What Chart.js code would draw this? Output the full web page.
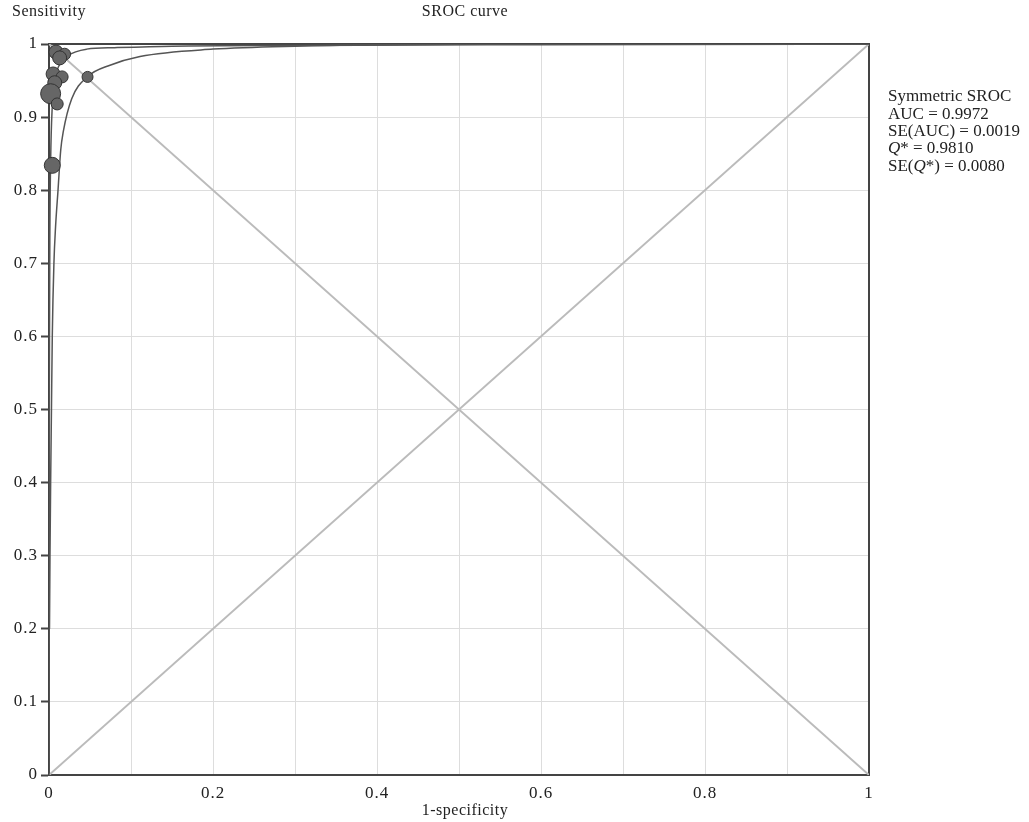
<!DOCTYPE html>
<html>
<head>
<meta charset="utf-8">
<title>SROC curve</title>
<script src="https://cdn.jsdelivr.net/npm/chart.js@4"></script>
<style>
    body { margin: 0; background: #fff; }
    #wrap { width: 1029px; height: 822px; }
</style>
</head>
<body>
<div id="wrap"><canvas id="srocChart" width="1029" height="822"></canvas></div>
<script>
// Study points (1-specificity, sensitivity) and relative study size
const studyFpr = [0.0085, 0.019, 0.013, 0.005, 0.016, 0.007, 0.002, 0.010, 0.047, 0.004];
const studyTpr = [0.989, 0.986, 0.981, 0.959, 0.955, 0.947, 0.932, 0.918, 0.955, 0.834];
const studySize = [7, 6, 7, 7, 6, 7, 10, 6, 5.5, 8];

// Symmetric SROC curve
const srocFpr = [0, 0.0003, 0.0006, 0.001, 0.002, 0.004, 0.007, 0.012, 0.023, 0.046, 0.08, 0.15, 0.3, 0.6, 1];
const srocTpr = [0, 0.45, 0.6, 0.73, 0.84, 0.915, 0.95, 0.97, 0.984, 0.993, 0.995, 0.997, 0.998, 0.999, 1];

// Lower curve
const lowerFpr = [0.0006, 0.0012, 0.002, 0.003, 0.004, 0.006, 0.008, 0.011, 0.0143, 0.0174, 0.0277, 0.0467, 0.0744, 0.111, 0.2, 0.3, 0.5, 1];
const lowerTpr = [0.2, 0.3, 0.4, 0.5, 0.6, 0.7, 0.75, 0.8, 0.855, 0.88, 0.925, 0.955, 0.971, 0.983, 0.993, 0.997, 0.9995, 1];

// Axis tick labels
const xTickLabels = ['0', '0.2', '0.4', '0.6', '0.8', '1'];
const yTickLabels = ['0', '0.1', '0.2', '0.3', '0.4', '0.5', '0.6', '0.7', '0.8', '0.9', '1'];

// Summary statistics
const statLines = ['Symmetric SROC', 'AUC = 0.9972', 'SE(AUC) = 0.0019', 'Q* = 0.9810', 'SE(Q*) = 0.0080'];

function pairs(xs, ys) {
    return xs.map(function(x, i) { return { x: x, y: ys[i] }; });
}

function tickText(list, value) {
    const hit = list.find(function(t) { return Math.abs(Number(t) - value) < 1e-6; });
    return hit === undefined ? '' : hit;
}

const serif = '"Liberation Serif", "DejaVu Serif", serif';
const textColor = '#222';

// Frame on top and right, plus all the free text
const framePlugin = {
    id: 'frame',
    beforeDraw: function(chart) {
        chart.ctx.letterSpacing = '1px';
    },
    beforeDatasetsDraw: function(chart) {
        const ctx = chart.ctx;
        const a = chart.chartArea;
        ctx.save();
        ctx.strokeStyle = '#444';
        ctx.lineWidth = 2;
        ctx.beginPath();
        ctx.moveTo(a.left, a.top);
        ctx.lineTo(a.right, a.top);
        ctx.lineTo(a.right, a.bottom);
        ctx.stroke();
        ctx.restore();
    },
    afterDraw: function(chart) {
        const ctx = chart.ctx;
        const a = chart.chartArea;
        ctx.save();
        ctx.fillStyle = textColor;
        ctx.textBaseline = 'middle';
        ctx.letterSpacing = '0.5px';
        ctx.font = '16px ' + serif;
        ctx.textAlign = 'center';
        ctx.fillText('SROC curve', (a.left + a.right) / 2 + 6, 12);
        ctx.fillText('1-specificity', (a.left + a.right) / 2 + 6, 811);
        ctx.textAlign = 'left';
        ctx.fillText('Sensitivity', 12, 12);

        // Stats box with italic Q
        ctx.letterSpacing = '0px';
        const x0 = a.right + 19;
        let y = 97;
        statLines.forEach(function(line) {
            let x = x0;
            const parts = line.split('Q');
            parts.forEach(function(part, i) {
                if (i > 0) {
                    ctx.font = 'italic 17px ' + serif;
                    ctx.fillText('Q', x, y);
                    x += ctx.measureText('Q').width;
                }
                ctx.font = '17px ' + serif;
                ctx.fillText(part, x, y);
                x += ctx.measureText(part).width;
            });
            y += 17.3;
        });
        ctx.restore();
    }
};

const ctx = document.getElementById('srocChart').getContext('2d');
new Chart(ctx, {
    type: 'scatter',
    data: {
        datasets: [
            {
                label: 'Studies',
                data: pairs(studyFpr, studyTpr),
                pointRadius: studySize,
                pointHoverRadius: studySize,
                pointBackgroundColor: '#666',
                pointBorderColor: '#333',
                pointBorderWidth: 1,
                clip: false,
                order: 0
            },
            {
                label: 'SROC',
                data: pairs(srocFpr, srocTpr),
                showLine: true,
                borderColor: '#555',
                borderWidth: 1.5,
                pointRadius: 0,
                cubicInterpolationMode: 'monotone',
                order: 1
            },
            {
                label: 'Lower',
                data: pairs(lowerFpr, lowerTpr),
                showLine: true,
                borderColor: '#555',
                borderWidth: 1.5,
                pointRadius: 0,
                cubicInterpolationMode: 'monotone',
                order: 2
            },
            {
                label: 'Diagonal',
                data: pairs([0, 1], [0, 1]),
                showLine: true,
                borderColor: '#bbb',
                borderWidth: 2,
                pointRadius: 0,
                order: 3
            },
            {
                label: 'Anti-diagonal',
                data: pairs([0, 1], [1, 0]),
                showLine: true,
                borderColor: '#bbb',
                borderWidth: 2,
                pointRadius: 0,
                order: 4
            }
        ]
    },
    options: {
        responsive: false,
        animation: false,
        layout: {
            padding: { left: 0, top: 44, right: 160, bottom: 0 }
        },
        plugins: {
            legend: { display: false },
            tooltip: { enabled: false }
        },
        scales: {
            x: {
                type: 'linear',
                min: 0,
                max: 1,
                afterFit: function(scale) { scale.height = 47; },
                border: { display: true, color: '#444', width: 2 },
                grid: { color: '#ddd', lineWidth: 1, drawTicks: false },
                ticks: {
                    stepSize: 0.1,
                    padding: 8,
                    autoSkip: false,
                    maxRotation: 0,
                    color: textColor,
                    font: { family: serif, size: 17 },
                    callback: function(value) { return tickText(xTickLabels, value); }
                }
            },
            y: {
                type: 'linear',
                min: 0,
                max: 1,
                afterFit: function(scale) { scale.width = 49; },
                border: { display: true, color: '#444', width: 2 },
                grid: { color: '#ddd', lineWidth: 1, drawTicks: true, tickLength: 8, tickColor: '#444', tickWidth: 2 },
                ticks: {
                    stepSize: 0.1,
                    padding: 3,
                    autoSkip: false,
                    color: textColor,
                    font: { family: serif, size: 17 },
                    callback: function(value) { return tickText(yTickLabels, value); }
                }
            }
        }
    },
    plugins: [framePlugin]
});
</script>
</body>
</html>
